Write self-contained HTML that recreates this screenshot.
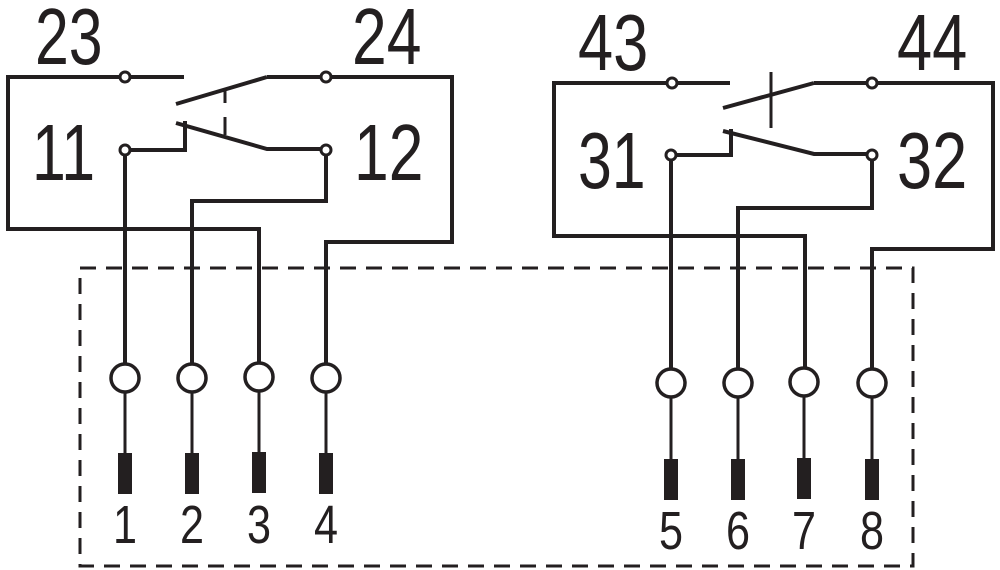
<!DOCTYPE html>
<html><head><meta charset="utf-8"><style>
html,body{margin:0;padding:0;background:#fff;}
svg{display:block;}
.big{font-family:"Liberation Sans",sans-serif;font-size:80px;fill:#231f20;}
.sm{font-family:"Liberation Sans",sans-serif;font-size:54px;fill:#231f20;}
</style></head><body>
<svg width="1000" height="570" viewBox="0 0 1000 570" xmlns="http://www.w3.org/2000/svg">
<g fill="none" stroke="#231f20" stroke-width="4">
<!-- dashed box -->
<rect x="80" y="268" width="833" height="298" stroke-dasharray="16,10" stroke-width="3"/>
<!-- left group -->
<polyline points="125,378 125,150 185,150 185,121"/>
<polyline points="259,378 259,229 8,229 8,77 184,77"/>
<polyline points="267,77 452,77 452,242 326,242 326,378"/>
<polyline points="192,378 192,201 326,201 326,150"/>
<line x1="176" y1="104" x2="267" y2="77"/>
<polyline points="176,123 267,149 326,149"/>
<line x1="225" y1="90" x2="225" y2="103" stroke-width="3"/>
<line x1="225" y1="117" x2="225" y2="135" stroke-width="3"/>
<!-- right group -->
<polyline points="671,383 671,155 731,155 731,129"/>
<polyline points="805,383 805,236 554,236 554,83 730,83"/>
<polyline points="814,83 993,83 993,249 872,249 872,383"/>
<polyline points="738,383 738,208 872,208 872,155"/>
<line x1="723" y1="108" x2="814" y2="83"/>
<polyline points="723,131 814,154 872,154"/>
<line x1="771" y1="72" x2="771" y2="128" stroke-width="3"/>
<!-- terminals top -->
<g fill="#fff" stroke-width="3">
<circle cx="125" cy="77" r="5"/><circle cx="326" cy="77" r="5"/>
<circle cx="125" cy="150" r="5"/><circle cx="326" cy="150" r="5"/>
<circle cx="672" cy="83" r="5"/><circle cx="872" cy="83" r="5"/>
<circle cx="671" cy="155" r="5"/><circle cx="872" cy="155" r="5"/>
</g>
<!-- lower wires -->
<g stroke-width="3">
<line x1="125" y1="378" x2="125" y2="455"/><line x1="192" y1="378" x2="192" y2="455"/>
<line x1="259" y1="378" x2="259" y2="455"/><line x1="326" y1="378" x2="326" y2="455"/>
<line x1="671" y1="383" x2="671" y2="460"/><line x1="738" y1="383" x2="738" y2="460"/>
<line x1="804" y1="383" x2="804" y2="460"/><line x1="872" y1="383" x2="872" y2="460"/>
</g>
<g fill="#fff" stroke-width="3.5">
<circle cx="125" cy="378" r="14"/><circle cx="192" cy="378" r="14"/>
<circle cx="259" cy="377" r="14"/><circle cx="326" cy="378" r="14"/>
<circle cx="671" cy="383" r="14"/><circle cx="738" cy="383" r="14"/>
<circle cx="804" cy="382" r="14"/><circle cx="872" cy="383" r="14"/>
</g>
</g>
<g fill="#231f20">
<rect x="118" y="453" width="14" height="41"/><rect x="185" y="453" width="14" height="41"/>
<rect x="252" y="452" width="14" height="41"/><rect x="319" y="453" width="14" height="41"/>
<rect x="664" y="459" width="14" height="41"/><rect x="731" y="459" width="14" height="41"/>
<rect x="797" y="458" width="14" height="41"/><rect x="865" y="459" width="14" height="41"/>
</g>
<g class="big">
<text transform="translate(35,64) scale(0.76,1)">23</text>
<text transform="translate(352,64) scale(0.78,1)">24</text>
<text transform="translate(32,180) scale(0.76,1)">11</text>
<text transform="translate(354,180) scale(0.78,1)">12</text>
<text transform="translate(578,70) scale(0.79,1)">43</text>
<text transform="translate(897,70) scale(0.79,1)">44</text>
<text transform="translate(578,188) scale(0.76,1)">31</text>
<text transform="translate(897,188) scale(0.79,1)">32</text>
</g>
<g class="sm" text-anchor="middle">
<text transform="translate(125,543) scale(0.8,1)">1</text>
<text transform="translate(192,543) scale(0.8,1)">2</text>
<text transform="translate(259,543) scale(0.8,1)">3</text>
<text transform="translate(326,543) scale(0.8,1)">4</text>
<text transform="translate(671,549) scale(0.8,1)">5</text>
<text transform="translate(738,549) scale(0.8,1)">6</text>
<text transform="translate(804,549) scale(0.8,1)">7</text>
<text transform="translate(872,549) scale(0.8,1)">8</text>
</g>
</svg>
</body></html>
